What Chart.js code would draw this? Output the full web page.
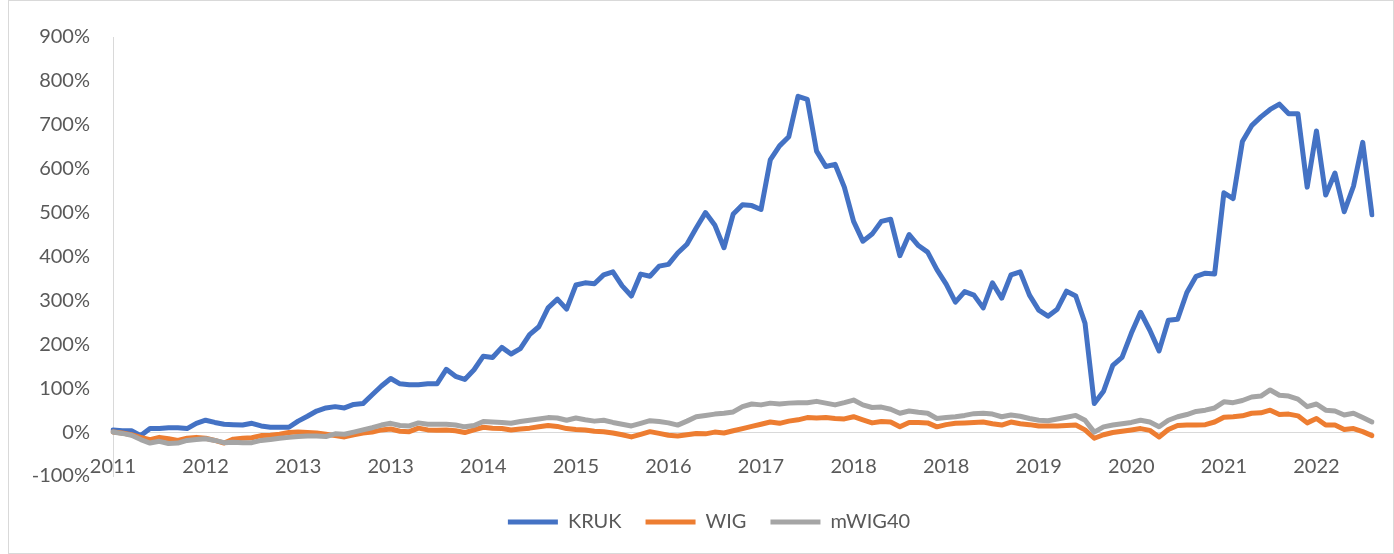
<!DOCTYPE html>
<html>
<head>
<meta charset="utf-8">
<script src="https://cdn.jsdelivr.net/npm/chart.js@4.4.1/dist/chart.umd.min.js"></script>
<style>
  html, body { margin: 0; padding: 0; background: #fff; }
  #wrap { position: relative; width: 1394px; height: 554px; }
  #frame { position: absolute; left: 8px; top: 0; width: 1384px; height: 552px; border: 1px solid #d9d9d9; pointer-events: none; }
</style>
</head>
<body>
<div id="wrap">
  <canvas id="chart" width="1394" height="554"></canvas>
  <div id="frame"></div>
</div>
<script>
// year labels shown every 10th point
const tickYears = ['2011','2012','2013','2013','2014','2015','2016','2017','2018','2018','2019','2020','2021','2022'];

// cumulative return, %
const kruk = [5,3,3,-8,8,8,10,10,8,20,
  27,22,18,17,16,20,14,11,11,11,
  25,36,48,55,58,55,63,65,85,105,
  122,110,108,108,110,110,143,127,120,142,
  173,170,193,178,190,222,240,283,303,280,
  335,340,338,358,365,333,310,360,355,378,
  382,408,428,465,500,472,420,497,518,516,
  507,620,652,673,765,758,640,605,610,558,
  480,435,451,480,485,402,450,425,410,370,
  337,296,320,312,283,340,305,358,365,312,
  278,264,280,321,310,248,65,93,152,170,
  225,273,232,185,255,257,318,355,362,360,
  545,532,662,698,718,735,747,725,725,558,
  686,540,590,502,560,660,495];

const wig = [0,-2,-6,-12,-17,-12,-15,-19,-14,-12,
  -14,-19,-25,-16,-14,-13,-8,-7,-5,-1,
  0,-1,-2,-5,-8,-11,-6,-2,0,5,
  7,2,1,9,5,4,5,3,-1,5,
  11,9,8,5,7,9,12,15,13,8,
  6,5,2,1,-2,-6,-11,-5,1,-3,
  -7,-9,-6,-3,-4,0,-2,3,8,13,
  18,23,20,25,28,33,32,33,31,30,
  35,28,21,24,23,12,22,22,21,12,
  17,20,21,22,23,19,16,23,19,17,
  14,14,14,15,16,5,-14,-6,-1,2,
  5,8,4,-11,6,15,16,16,17,23,
  34,35,37,43,44,50,40,41,37,21,
  31,16,16,6,8,1,-8];

const mwig40 = [0,-3,-7,-17,-25,-21,-26,-25,-19,-17,
  -15,-19,-24,-23,-24,-24,-19,-17,-14,-12,
  -10,-9,-9,-10,-4,-5,0,5,10,16,
  20,15,14,21,18,18,18,16,12,15,
  24,23,22,20,24,27,30,33,32,27,
  32,28,25,27,22,18,14,20,26,24,
  21,16,25,35,38,41,43,46,58,64,
  62,66,64,66,67,67,70,66,62,67,
  73,62,56,57,52,43,48,45,43,31,
  33,35,38,42,43,41,35,39,36,31,
  27,26,30,34,38,27,0,12,16,19,
  22,27,23,12,27,35,40,47,50,55,
  69,67,72,80,82,96,84,82,75,58,
  64,50,48,39,43,33,23];

const points = kruk.map((_, i) => i);
const textColor = '#595959';
const font = { family: 'Lato', size: 20 };

function series(label, data, color, order){
  return { label, data, borderColor: color, backgroundColor: color, borderWidth: 5,
    pointRadius: 0, tension: 0, borderCapStyle: 'round', borderJoinStyle: 'round', order };
}

// nudge the legend a bit right and down, like the Excel original
const legendNudge = {
  id: 'legendNudge',
  afterLayout(chart){
    const l = chart.legend;
    l.left += 23; l.right += 23;
    l.top += 12; l.bottom += 12;
  }
};

new Chart(document.getElementById('chart').getContext('2d'), {
  type: 'line',
  data: {
    labels: points,
    datasets: [
      series('KRUK', kruk, '#4472C4', 3),
      series('WIG', wig, '#ED7D31', 2),
      series('mWIG40', mwig40, '#A5A5A5', 1)
    ]
  },
  options: {
    responsive: false,
    animation: false,
    layout: { padding: { left: 0, right: 22, top: 37, bottom: 24 } },
    plugins: {
      tooltip: { enabled: false },
      legend: {
        position: 'bottom',
        labels: {
          usePointStyle: true, pointStyle: 'line', pointStyleWidth: 50,
          padding: 24, color: textColor, font,
          sort: (a, b) => a.datasetIndex - b.datasetIndex
        }
      }
    },
    scales: {
      x: {
        type: 'category',
        position: { y: 0 },
        offset: false,
        grid: { display: false, drawTicks: false },
        border: { display: true, color: '#d9d9d9', width: 1 },
        ticks: {
          autoSkip: false, maxRotation: 0, minRotation: 0, padding: 22,
          color: textColor, font,
          callback: (v, i) => i % 10 === 0 ? tickYears[i / 10] : null
        }
      },
      y: {
        min: -100, max: 900,
        grid: { display: false, drawTicks: false },
        border: { display: true, color: '#d9d9d9', width: 1 },
        ticks: { stepSize: 100, padding: 23, color: textColor, font, callback: v => v + '%' },
        afterFit: s => { s.width = 113; }
      }
    }
  },
  plugins: [legendNudge]
});
</script>
</body>
</html>
